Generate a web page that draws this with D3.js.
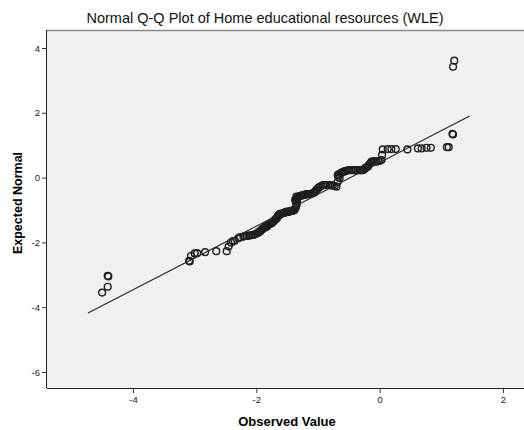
<!DOCTYPE html>
<html lang="en">
  <head>
    <meta charset="UTF-8" />
    <title>Normal Q-Q Plot</title>
    <style type="text/css">
      body {
        margin: 0;
        background: #ffffff;
        font-family: "Liberation Sans", Arial, Helvetica, sans-serif;
      }
      svg {
        display: block;
      }
      .tick text {
        font-size: 9.5px;
        fill: #222;
      }
    </style>
  </head>
  <body>
    <script src="https://d3js.org/d3.v7.min.js"></script>
    <script>
      var observed = [
        -4.50, -4.41, -4.41, -4.40, -3.09, -3.08, -3.06, -3.00, -2.96, -2.83,
        -2.65, -2.48, -2.45, -2.41, -2.38, -2.35, -2.29, -2.21, -2.16, -2.11,
        -2.05, -1.99, -1.96, -1.92, -1.91, -1.88, -1.83, -1.81, -1.78, -1.75,
        -1.73, -1.70, -1.67, -1.65, -1.62, -1.59, -1.55, -1.52, -1.49, -1.46,
        -1.43, -1.41, -1.38, -1.35, -1.34, -1.37, -1.33, -1.35, -1.30, -1.26,
        -1.24, -1.20, -1.17, -1.13, -1.08, -1.04, -1.00, -0.97, -0.92, -0.87,
        -0.81, -0.76, -0.70, -0.68, -0.65, -0.68, -0.63, -0.59, -0.55, -0.52,
        -0.49, -0.43, -0.39, -0.36, -0.31, -0.27, -0.23, -0.19, -0.16, -0.13,
        -0.10, -0.05, -0.02, 0.03, 0.04, 0.05, 0.13, 0.19, 0.26, 0.45,
        0.62, 0.68, 0.76, 0.83, 1.09, 1.12, 1.18, 1.19, 1.19, 1.21,
        -2.26, -2.19, -2.13, -2.08, -2.02, -1.97, -1.94, -1.90, -1.86, -1.85,
        -1.80, -1.77, -1.76, -1.72, -1.69, -1.66, -1.64, -1.61, -1.57, -1.54,
        -1.51, -1.48, -1.45, -1.42, -1.40, -1.36, -1.35, -1.36, -1.34, -1.32,
        -1.28, -1.22, -1.19, -1.15, -1.11, -1.06, -1.02, -0.99, -0.95, -0.90,
        -0.84, -0.78, -0.73, -0.67, -0.66, -0.61, -0.57, -0.46, -0.41, -0.33,
        -0.29, -0.25, -0.21, -0.18, -0.14, -0.08, 0.00
      ];
      var expected = [
        -3.55, -3.37, -3.03, -3.05, -2.57, -2.59, -2.42, -2.34, -2.33, -2.30,
        -2.27, -2.27, -2.13, -2.01, -1.96, -1.95, -1.87, -1.82, -1.80, -1.79,
        -1.77, -1.72, -1.68, -1.62, -1.60, -1.56, -1.52, -1.46, -1.43, -1.41,
        -1.37, -1.31, -1.26, -1.19, -1.12, -1.11, -1.09, -1.06, -1.05, -1.05,
        -1.03, -1.02, -1.00, -0.85, -0.75, -0.69, -0.63, -0.59, -0.57, -0.55,
        -0.54, -0.52, -0.51, -0.51, -0.48, -0.41, -0.33, -0.29, -0.23, -0.23,
        -0.23, -0.24, -0.28, -0.13, -0.01, 0.08, 0.14, 0.18, 0.20, 0.22,
        0.23, 0.23, 0.23, 0.23, 0.23, 0.23, 0.30, 0.34, 0.42, 0.49,
        0.50, 0.49, 0.51, 0.54, 0.70, 0.87, 0.88, 0.88, 0.88, 0.87,
        0.90, 0.90, 0.92, 0.92, 0.94, 0.94, 1.35, 1.33, 3.42, 3.61,
        -1.84, -1.81, -1.79, -1.78, -1.75, -1.70, -1.66, -1.59, -1.53, -1.50,
        -1.45, -1.42, -1.40, -1.34, -1.29, -1.22, -1.16, -1.13, -1.10, -1.08,
        -1.07, -1.05, -1.04, -1.03, -1.01, -0.92, -0.80, -0.72, -0.66, -0.60,
        -0.56, -0.53, -0.52, -0.51, -0.50, -0.46, -0.37, -0.31, -0.26, -0.23,
        -0.23, -0.24, -0.26, 0.03, 0.11, 0.16, 0.19, 0.23, 0.23, 0.23,
        0.23, 0.26, 0.32, 0.38, 0.46, 0.50, 0.52
      ];
      // reference line end points
      var lineObserved = [-4.73, 1.46];
      var lineExpected = [-4.18, 1.90];

      var xTicks = [-4, -2, 0, 2];
      var yTicks = [4, 2, 0, -2, -4, -6];

      var width = 524;
      var height = 430;
      var frame = { left: 47, top: 30, right: 524, bottom: 388 };

      var svg = d3
        .select("body")
        .append("svg")
        .attr("width", width)
        .attr("height", height);

      var x = d3.scaleLinear().domain([-4, 2]).range([133, 503]);
      var y = d3.scaleLinear().domain([4, -6]).range([48, 372]);

      svg
        .append("rect")
        .attr("x", frame.left)
        .attr("y", frame.top)
        .attr("width", frame.right - frame.left)
        .attr("height", frame.bottom - frame.top)
        .attr("fill", "#f0f0f0");

      // top border (lighter)
      svg
        .append("line")
        .attr("x1", frame.left)
        .attr("x2", frame.right)
        .attr("y1", frame.top + 0.5)
        .attr("y2", frame.top + 0.5)
        .attr("stroke", "#8a8a8a")
        .attr("stroke-width", 1.5);

      var fmt = (d) => String(d);

      var xAxis = svg
        .append("g")
        .attr("transform", `translate(0,${frame.bottom})`)
        .call(d3.axisBottom(x).tickValues(xTicks).tickFormat(fmt).tickSize(5).tickPadding(3));
      xAxis.select(".domain").attr("d", `M${frame.left},0.5H${frame.right}`).attr("stroke", "#222");

      var yAxis = svg
        .append("g")
        .attr("transform", `translate(${frame.left},0)`)
        .call(d3.axisLeft(y).tickValues(yTicks).tickFormat(fmt).tickSize(5).tickPadding(2));
      yAxis.select(".domain").attr("d", `M-0.5,${frame.top}V${frame.bottom}`).attr("stroke", "#222");

      svg.selectAll(".tick line").attr("stroke", "#333");

      var line = d3
        .line()
        .x((d) => x(d[0]))
        .y((d) => y(d[1]));

      svg
        .append("g")
        .selectAll("circle")
        .data(d3.zip(observed, expected))
        .join("circle")
        .attr("cx", (d) => x(d[0]))
        .attr("cy", (d) => y(d[1]))
        .attr("r", 3.4)
        .attr("fill", "none")
        .attr("stroke", "#1e1e1e")
        .attr("stroke-width", 1.4);

      svg
        .append("path")
        .datum(d3.zip(lineObserved, lineExpected))
        .attr("d", line)
        .attr("fill", "none")
        .attr("stroke", "#2a2a2a")
        .attr("stroke-width", 1.2);

      svg
        .append("text")
        .attr("x", 265)
        .attr("y", 23)
        .attr("text-anchor", "middle")
        .style("font-size", "14.5px")
        .style("fill", "#111")
        .text("Normal Q-Q Plot of Home educational resources (WLE)");

      svg
        .append("text")
        .attr("x", 287)
        .attr("y", 426)
        .attr("text-anchor", "middle")
        .style("font-size", "13px")
        .style("font-weight", "bold")
        .text("Observed Value");

      svg
        .append("text")
        .attr("transform", "translate(22,203) rotate(-90)")
        .attr("text-anchor", "middle")
        .style("font-size", "12.5px")
        .style("font-weight", "bold")
        .text("Expected Normal");
    </script>
  </body>
</html>
